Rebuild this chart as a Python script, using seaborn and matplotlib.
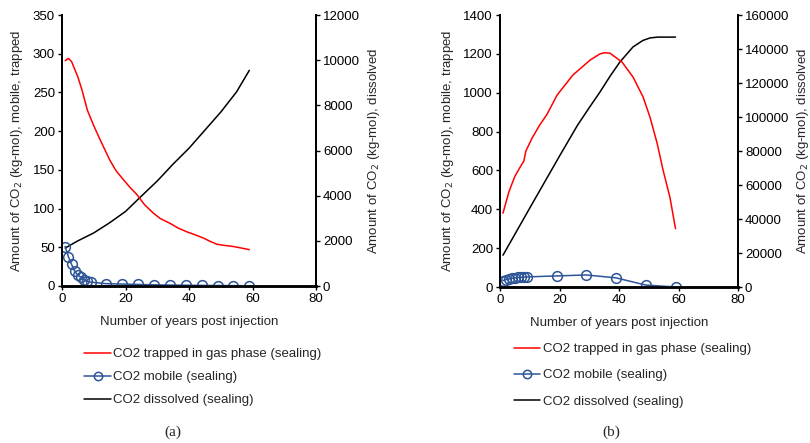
import matplotlib
matplotlib.use("Agg")
import matplotlib.pyplot as plt
from matplotlib.lines import Line2D
import seaborn as sns

# ---------------- data: panel (a) ----------------
years_trapped_a = [1, 2, 3, 5, 6.3, 8, 10, 12, 15, 17, 19.4, 21.5, 23.6, 26, 28.8, 31, 34, 36.5,
                   39.3, 42, 44.5, 46.5, 48.7, 51, 54, 56.5, 59]
trapped_a = [291, 294, 290, 270, 253, 227, 207, 189, 163, 149, 137, 127, 118, 105, 94, 87, 81, 75,
             70, 66, 62, 58, 54, 52.5, 51, 49, 47]

years_mobile_a = [1, 2, 3, 4, 5, 6, 7, 8, 9, 14, 19, 24, 29, 34, 39, 44, 49, 54, 59]
mobile_a = [51, 38, 28, 19, 14, 11, 8, 6, 5, 3, 2.5, 2, 1.5, 1.2, 1, 0.8, 0.6, 0.5, 0.3]

years_dissolved_a = [1, 5, 10, 15, 20, 25, 30, 35, 40, 45, 50, 55, 59]
dissolved_a = [1680, 2000, 2350, 2800, 3300, 3980, 4650, 5400, 6100, 6900, 7700, 8600, 9550]

# ---------------- data: panel (b) ----------------
years_trapped_b = [1, 3, 5, 6.7, 8, 8.7, 10.8, 13.4, 15.7, 19.2, 24.5, 30.3, 33.6, 35.3, 37, 41,
                   44.7, 48.1, 50.4, 52.8, 54.8, 57.1, 59]
trapped_b = [380, 490, 570, 615, 648, 700, 767, 835, 886, 988, 1091, 1168, 1200, 1206, 1203, 1158,
             1081, 978, 875, 741, 602, 463, 300]

years_mobile_b = [1, 2, 3, 4, 5, 6, 7, 8, 9, 19, 29, 39, 49, 59]
mobile_b = [33, 38, 42, 45, 47, 49, 50, 51, 52, 57, 62, 47, 10, 0]

years_dissolved_b = [1, 11, 20, 26, 30, 33.6, 37, 40.3, 44.7, 48, 50.4, 53, 59]
dissolved_b = [18700, 49500, 77000, 95000, 105500, 114700, 124000, 132350, 141200, 145000,
               146500, 147000, 147000]

x_ticks = [0, 20, 40, 60, 80]
label_trapped = "CO2 trapped in gas phase (sealing)"
label_mobile = "CO2 mobile (sealing)"
label_dissolved = "CO2 dissolved (sealing)"
ylabel_left = "Amount of CO$_2$ (kg-mol), mobile, trapped"
ylabel_right = "Amount of CO$_2$ (kg-mol), dissolved"
xlabel = "Number of years post injection"

RED = "#FF0000"
BLUE = "#2E5597"
BLACK = "#000000"

sns.set_style("white")
plt.rcParams['font.family'] = ['Liberation Sans', 'DejaVu Sans']
FS = 9.5

fig = plt.figure(figsize=(8.1, 4.43), dpi=100)


def make_panel(rect, yt, tr, ym, mb, yd, ds, ylim_l, yticks_l, ylim_r, yticks_r,
               lab_l_x, lab_r_x):
    ax = fig.add_axes(rect)
    ax2 = ax.twinx()
    sns.lineplot(x=yt, y=tr, ax=ax, color=RED, lw=1.1, sort=False)
    sns.lineplot(x=ym, y=mb, ax=ax, color=BLUE, lw=1.1, marker="o", markersize=7,
                 markerfacecolor="none", markeredgecolor=BLUE, markeredgewidth=1.1, sort=False)
    sns.lineplot(x=yd, y=ds, ax=ax2, color=BLACK, lw=1.1, sort=False)
    ax.set_xlim(0, 80)
    ax.set_xticks(x_ticks)
    ax.set_ylim(*ylim_l)
    ax.set_yticks(yticks_l)
    ax2.set_ylim(*ylim_r)
    ax2.set_yticks(yticks_r)
    for a in (ax, ax2):
        a.spines['top'].set_visible(False)
        a.spines['left'].set_linewidth(1.3)
        a.spines['right'].set_linewidth(1.3)
        a.spines['bottom'].set_linewidth(1.8)
        for s in a.spines.values():
            s.set_color("black")
        a.grid(False)
    ax.tick_params(axis='both', direction='out', length=3, width=1, labelsize=FS, colors='black', pad=2)
    ax2.tick_params(axis='y', direction='out', length=3, width=1, labelsize=FS, colors='black', pad=2)
    ax.tick_params(axis='y', left=True)
    ax.tick_params(axis='x', bottom=True)
    ax2.tick_params(axis='y', right=True)
    ax.set_xlabel(xlabel, fontsize=FS)
    ax.xaxis.set_label_coords(0.5, -0.11)
    ax.set_ylabel(ylabel_left, fontsize=FS)
    ax.yaxis.set_label_coords(lab_l_x, 0.5)
    ax2.set_ylabel(ylabel_right, fontsize=FS)
    ax2.yaxis.set_label_coords(lab_r_x, 0.5)
    ax.set_zorder(ax2.get_zorder() + 1)
    ax.patch.set_visible(False)
    return ax, ax2


W, H = 810, 443


def rect_px(l, r, t, b):
    return [l / W, 1 - b / H, (r - l) / W, (b - t) / H]


make_panel(rect_px(62, 316, 15, 286), years_trapped_a, trapped_a, years_mobile_a, mobile_a,
           years_dissolved_a, dissolved_a, (0, 350), list(range(0, 351, 50)),
           (0, 12000), list(range(0, 12001, 2000)), -0.146, 1.197)
make_panel(rect_px(500, 738, 15, 287), years_trapped_b, trapped_b, years_mobile_b, mobile_b,
           years_dissolved_b, dissolved_b, (0, 1400), list(range(0, 1401, 200)),
           (0, 160000), list(range(0, 160001, 20000)), -0.185, 1.238)

handles = [
    Line2D([], [], color=RED, lw=1.1),
    Line2D([], [], color=BLUE, lw=1.1, marker="o", markersize=6, markerfacecolor="none",
           markeredgecolor=BLUE, markeredgewidth=1.1),
    Line2D([], [], color=BLACK, lw=1.1),
]
labels = [label_trapped, label_mobile, label_dissolved]

fig.legend(handles, labels, loc="upper left", bbox_to_anchor=(84 / W, 1 - 348 / H),
           frameon=False, fontsize=FS, handlelength=2.05, handletextpad=0.15,
           borderpad=0, borderaxespad=0, labelspacing=0.82, numpoints=1)
fig.legend(handles, labels, loc="upper left", bbox_to_anchor=(514 / W, 1 - 343 / H),
           frameon=False, fontsize=FS, handlelength=2.0, handletextpad=0.2,
           borderpad=0, borderaxespad=0, labelspacing=1.06, numpoints=1)

fig.text(173 / W, 1 - 432 / H, "(a)", ha="center", va="center", fontsize=11,
         family=["Liberation Serif", "DejaVu Serif"])
fig.text(611 / W, 1 - 432 / H, "(b)", ha="center", va="center", fontsize=11,
         family=["Liberation Serif", "DejaVu Serif"])

fig.savefig("out.png", dpi=100)
